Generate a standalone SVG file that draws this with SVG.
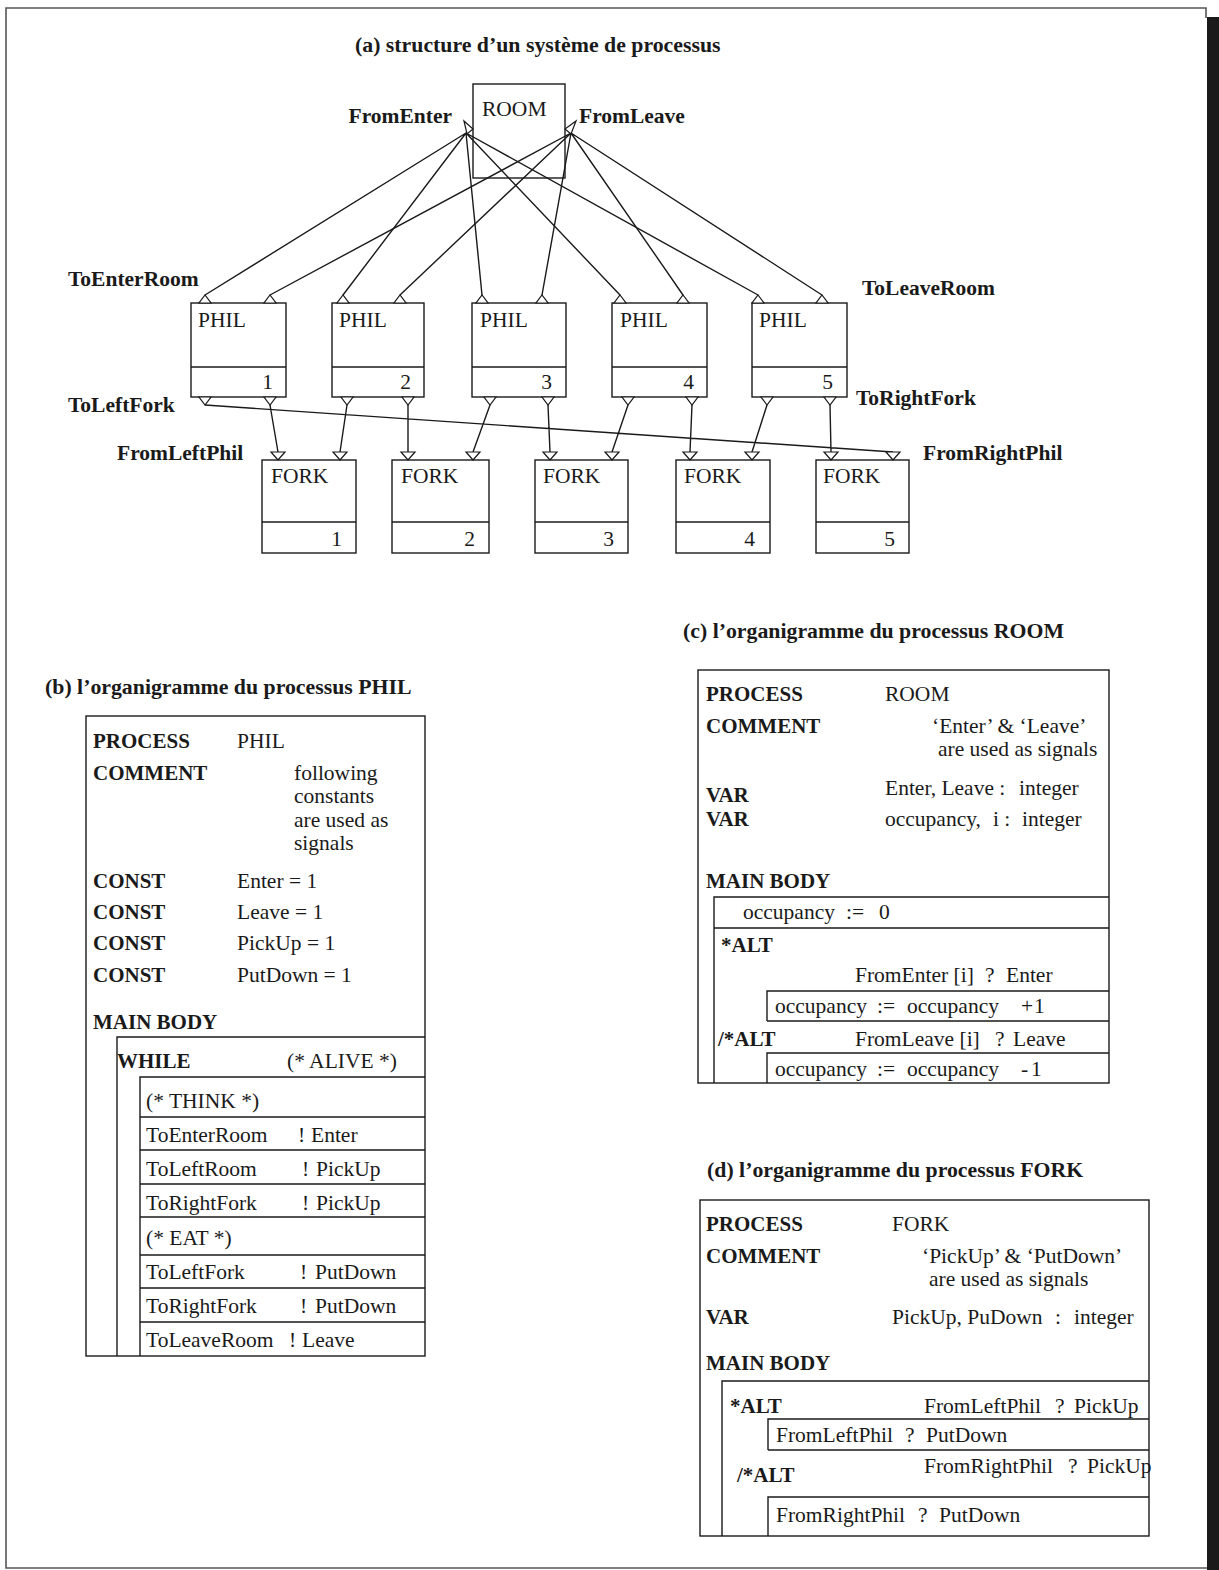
<svg xmlns="http://www.w3.org/2000/svg" width="1219" height="1570" viewBox="0 0 1219 1570">
<defs>
<style>
text{font-family:"Liberation Serif","Times New Roman",serif;font-size:21.5px;fill:#1a1a1a}
.b{font-weight:bold;font-size:21px}
.t{font-weight:bold;font-size:21.8px}
.lb{font-weight:bold;font-size:21.5px}
.box{fill:#fff;stroke:#1a1a1a;stroke-width:1.4}
.ln{fill:none;stroke:#1a1a1a;stroke-width:1.4}
.port{fill:#fff;stroke:#1a1a1a;stroke-width:1.2}
.frame{fill:none;stroke:#555;stroke-width:1.6}
</style>
</defs>
<rect width="1219" height="1570" fill="#fff"/>
<g id="frame">
<path class="frame" d="M1206,18 V8 H6 V1568 H1207"/>
<rect x="1207" y="17" width="12" height="1553" fill="#1a1a1a"/>
</g>

<text class="t" x="355" y="52">(a) structure d’un système de processus</text>

<g id="room">
<rect x="473" y="84" width="92" height="94" fill="none" stroke="#1a1a1a" stroke-width="1.4"/>
<text x="482" y="116" font-size="20">ROOM</text>
</g>

<g id="connectors">
<path class="ln" d="M466,133 L205,295 M466,133 L343,295 M466,133 L482,295 M466,133 L620,295 M466,133 L758,295"/>
<path class="ln" d="M571,133 L270,295 M571,133 L400,295 M571,133 L542,295 M571,133 L683,295 M571,133 L822,295"/>
<path class="ln" d="M270,405 L278,452 M347,405 L340,452 M408,405 L408,452 M490,405 L473,452 M548,405 L550,452 M628,405 L612,452 M692,405 L690,452 M767,405 L752,452 M830,405 L831,452 M205,405 L893,452"/>
</g>

<g id="room-ports">
<polygon class="port" points="464,121 467,134 473,129"/>
<polygon class="port" points="576,121 571,134 565,129"/>
</g>

<g id="labels">
<text class="lb" x="452" y="123" text-anchor="end">FromEnter</text>
<text class="lb" x="579" y="123">FromLeave</text>
<text class="lb" x="68" y="286">ToEnterRoom</text>
<text class="lb" x="862" y="295">ToLeaveRoom</text>
<text class="lb" x="68" y="412">ToLeftFork</text>
<text class="lb" x="856" y="405">ToRightFork</text>
<text class="lb" x="117" y="460">FromLeftPhil</text>
<text class="lb" x="923" y="460">FromRightPhil</text>
</g>

<g id="phil1">
<rect class="box" x="191" y="303" width="95" height="94"/><path class="ln" d="M191,367 H286"/>
<text x="198" y="327">PHIL</text><text x="273" y="389" text-anchor="end">1</text>
<polygon class="port" points="199,303 211,303 205,295"/><polygon class="port" points="264,303 276,303 270,295"/>
<polygon class="port" points="199,397 211,397 205,405"/><polygon class="port" points="264,397 276,397 270,405"/>
</g>
<g id="phil2">
<rect class="box" x="332" y="303" width="92" height="94"/><path class="ln" d="M332,367 H424"/>
<text x="339" y="327">PHIL</text><text x="411" y="389" text-anchor="end">2</text>
<polygon class="port" points="337,303 349,303 343,295"/><polygon class="port" points="394,303 406,303 400,295"/>
<polygon class="port" points="341,397 353,397 347,405"/><polygon class="port" points="402,397 414,397 408,405"/>
</g>
<g id="phil3">
<rect class="box" x="472" y="303" width="94" height="94"/><path class="ln" d="M472,367 H566"/>
<text x="480" y="327">PHIL</text><text x="552" y="389" text-anchor="end">3</text>
<polygon class="port" points="476,303 488,303 482,295"/><polygon class="port" points="536,303 548,303 542,295"/>
<polygon class="port" points="484,397 496,397 490,405"/><polygon class="port" points="542,397 554,397 548,405"/>
</g>
<g id="phil4">
<rect class="box" x="612" y="303" width="95" height="94"/><path class="ln" d="M612,367 H707"/>
<text x="620" y="327">PHIL</text><text x="694" y="389" text-anchor="end">4</text>
<polygon class="port" points="614,303 626,303 620,295"/><polygon class="port" points="677,303 689,303 683,295"/>
<polygon class="port" points="622,397 634,397 628,405"/><polygon class="port" points="686,397 698,397 692,405"/>
</g>
<g id="phil5">
<rect class="box" x="752" y="303" width="95" height="94"/><path class="ln" d="M752,367 H847"/>
<text x="759" y="327">PHIL</text><text x="833" y="389" text-anchor="end">5</text>
<polygon class="port" points="752,303 764,303 758,295"/><polygon class="port" points="816,303 828,303 822,295"/>
<polygon class="port" points="761,397 773,397 767,405"/><polygon class="port" points="824,397 836,397 830,405"/>
</g>

<g id="fork1">
<rect class="box" x="262" y="460" width="94" height="93"/><path class="ln" d="M262,522 H356"/>
<text x="271" y="483">FORK</text><text x="342" y="546" text-anchor="end">1</text>
<polygon class="port" points="271,452 285,452 278,460"/><polygon class="port" points="333,452 347,452 340,460"/>
</g>
<g id="fork2">
<rect class="box" x="392" y="460" width="97" height="93"/><path class="ln" d="M392,522 H489"/>
<text x="401" y="483">FORK</text><text x="475" y="546" text-anchor="end">2</text>
<polygon class="port" points="401,452 415,452 408,460"/><polygon class="port" points="466,452 480,452 473,460"/>
</g>
<g id="fork3">
<rect class="box" x="535" y="460" width="93" height="93"/><path class="ln" d="M535,522 H628"/>
<text x="543" y="483">FORK</text><text x="614" y="546" text-anchor="end">3</text>
<polygon class="port" points="543,452 557,452 550,460"/><polygon class="port" points="605,452 619,452 612,460"/>
</g>
<g id="fork4">
<rect class="box" x="676" y="460" width="94" height="93"/><path class="ln" d="M676,522 H770"/>
<text x="684" y="483">FORK</text><text x="755" y="546" text-anchor="end">4</text>
<polygon class="port" points="683,452 697,452 690,460"/><polygon class="port" points="745,452 759,452 752,460"/>
</g>
<g id="fork5">
<rect class="box" x="816" y="460" width="93" height="93"/><path class="ln" d="M816,522 H909"/>
<text x="823" y="483">FORK</text><text x="895" y="546" text-anchor="end">5</text>
<polygon class="port" points="824,452 838,452 831,460"/><polygon class="port" points="886,452 900,452 893,460"/>
</g>

<g id="phil-chart">
<text class="t" x="45" y="694">(b) l’organigramme du processus PHIL</text>
<rect class="box" x="86" y="716" width="339" height="640"/>
<text class="b" x="93" y="748">PROCESS</text><text x="237" y="748">PHIL</text>
<text class="b" x="93" y="780">COMMENT</text>
<text x="294" y="780">following</text><text x="294" y="803">constants</text><text x="294" y="827">are used as</text><text x="294" y="850">signals</text>
<text class="b" x="93" y="888">CONST</text><text x="237" y="888">Enter = 1</text>
<text class="b" x="93" y="919">CONST</text><text x="237" y="919">Leave = 1</text>
<text class="b" x="93" y="950">CONST</text><text x="237" y="950">PickUp = 1</text>
<text class="b" x="93" y="982">CONST</text><text x="237" y="982">PutDown = 1</text>
<text class="b" x="93" y="1029">MAIN BODY</text>
<path class="ln" d="M117,1356 V1037 H425 M140,1356 V1077 H425 M140,1117 H425 M140,1150 H425 M140,1184 H425 M140,1217 H425 M140,1255 H425 M140,1288 H425 M140,1322 H425"/>
<text class="b" x="117" y="1068">WHILE</text><text x="287" y="1068">(* ALIVE *)</text>
<text x="146" y="1108">(* THINK *)</text>
<text x="146" y="1142">ToEnterRoom</text><text x="298" y="1142">!</text><text x="311" y="1142">Enter</text>
<text x="146" y="1176">ToLeftRoom</text><text x="302" y="1176">!</text><text x="316" y="1176">PickUp</text>
<text x="146" y="1210">ToRightFork</text><text x="302" y="1210">!</text><text x="316" y="1210">PickUp</text>
<text x="146" y="1245">(* EAT *)</text>
<text x="146" y="1279">ToLeftFork</text><text x="300" y="1279">!</text><text x="315" y="1279">PutDown</text>
<text x="146" y="1313">ToRightFork</text><text x="300" y="1313">!</text><text x="315" y="1313">PutDown</text>
<text x="146" y="1347">ToLeaveRoom</text><text x="289" y="1347">!</text><text x="302" y="1347">Leave</text>
</g>

<g id="room-chart">
<text class="t" x="683" y="638">(c) l’organigramme du processus ROOM</text>
<rect class="box" x="698" y="670" width="411" height="413"/>
<text class="b" x="706" y="701">PROCESS</text><text x="885" y="701">ROOM</text>
<text class="b" x="706" y="733">COMMENT</text><text x="932" y="733">‘Enter’ &amp; ‘Leave’</text>
<text x="938" y="756">are used as signals</text>
<text class="b" x="706" y="802">VAR</text><text x="885" y="795">Enter, Leave :<tspan x="1019">integer</tspan></text>
<text class="b" x="706" y="826">VAR</text><text x="885" y="826">occupancy,<tspan x="993">i :</tspan><tspan x="1022">integer</tspan></text>
<text class="b" x="706" y="888">MAIN BODY</text>
<path class="ln" d="M714,1083 V897 H1109 M714,928 H1109 M767,1021 V991 H1109 M767,1021 H1109 M767,1083 V1053 H1109"/>
<text x="743" y="919">occupancy<tspan x="846">:=</tspan><tspan x="879">0</tspan></text>
<text class="b" x="721" y="952">*ALT</text>
<text x="855" y="982">FromEnter [i]<tspan x="985">?</tspan><tspan x="1006">Enter</tspan></text>
<text x="775" y="1013">occupancy<tspan x="877">:=</tspan><tspan x="907">occupancy</tspan><tspan x="1021">+</tspan><tspan x="1034">1</tspan></text>
<text class="b" x="718" y="1046">/*ALT</text>
<text x="855" y="1046">FromLeave [i]<tspan x="995">?</tspan><tspan x="1013">Leave</tspan></text>
<text x="775" y="1076">occupancy<tspan x="877">:=</tspan><tspan x="907">occupancy</tspan><tspan x="1021">-</tspan><tspan x="1031">1</tspan></text>
</g>

<g id="fork-chart">
<text class="t" x="707" y="1177">(d) l’organigramme du processus FORK</text>
<rect class="box" x="700" y="1200" width="449" height="336"/>
<text class="b" x="706" y="1231">PROCESS</text><text x="892" y="1231">FORK</text>
<text class="b" x="706" y="1263">COMMENT</text><text x="922" y="1263">‘PickUp’ &amp; ‘PutDown’</text>
<text x="929" y="1286">are used as signals</text>
<text class="b" x="706" y="1324">VAR</text><text x="892" y="1324">PickUp, PuDown<tspan x="1055">:</tspan><tspan x="1074">integer</tspan></text>
<text class="b" x="706" y="1370">MAIN BODY</text>
<path class="ln" d="M722,1536 V1381 H1149 M768,1450 V1419 H1149 M768,1450 H1149 M768,1536 V1497 H1149"/>
<text class="b" x="730" y="1413">*ALT</text>
<text x="924" y="1413">FromLeftPhil<tspan x="1055">?</tspan><tspan x="1074">PickUp</tspan></text>
<text x="776" y="1442">FromLeftPhil<tspan x="905">?</tspan><tspan x="926">PutDown</tspan></text>
<text class="b" x="737" y="1482">/*ALT</text>
<text x="924" y="1473">FromRightPhil<tspan x="1068">?</tspan><tspan x="1087">PickUp</tspan></text>
<text x="776" y="1522">FromRightPhil<tspan x="918">?</tspan><tspan x="939">PutDown</tspan></text>
</g>
</svg>
